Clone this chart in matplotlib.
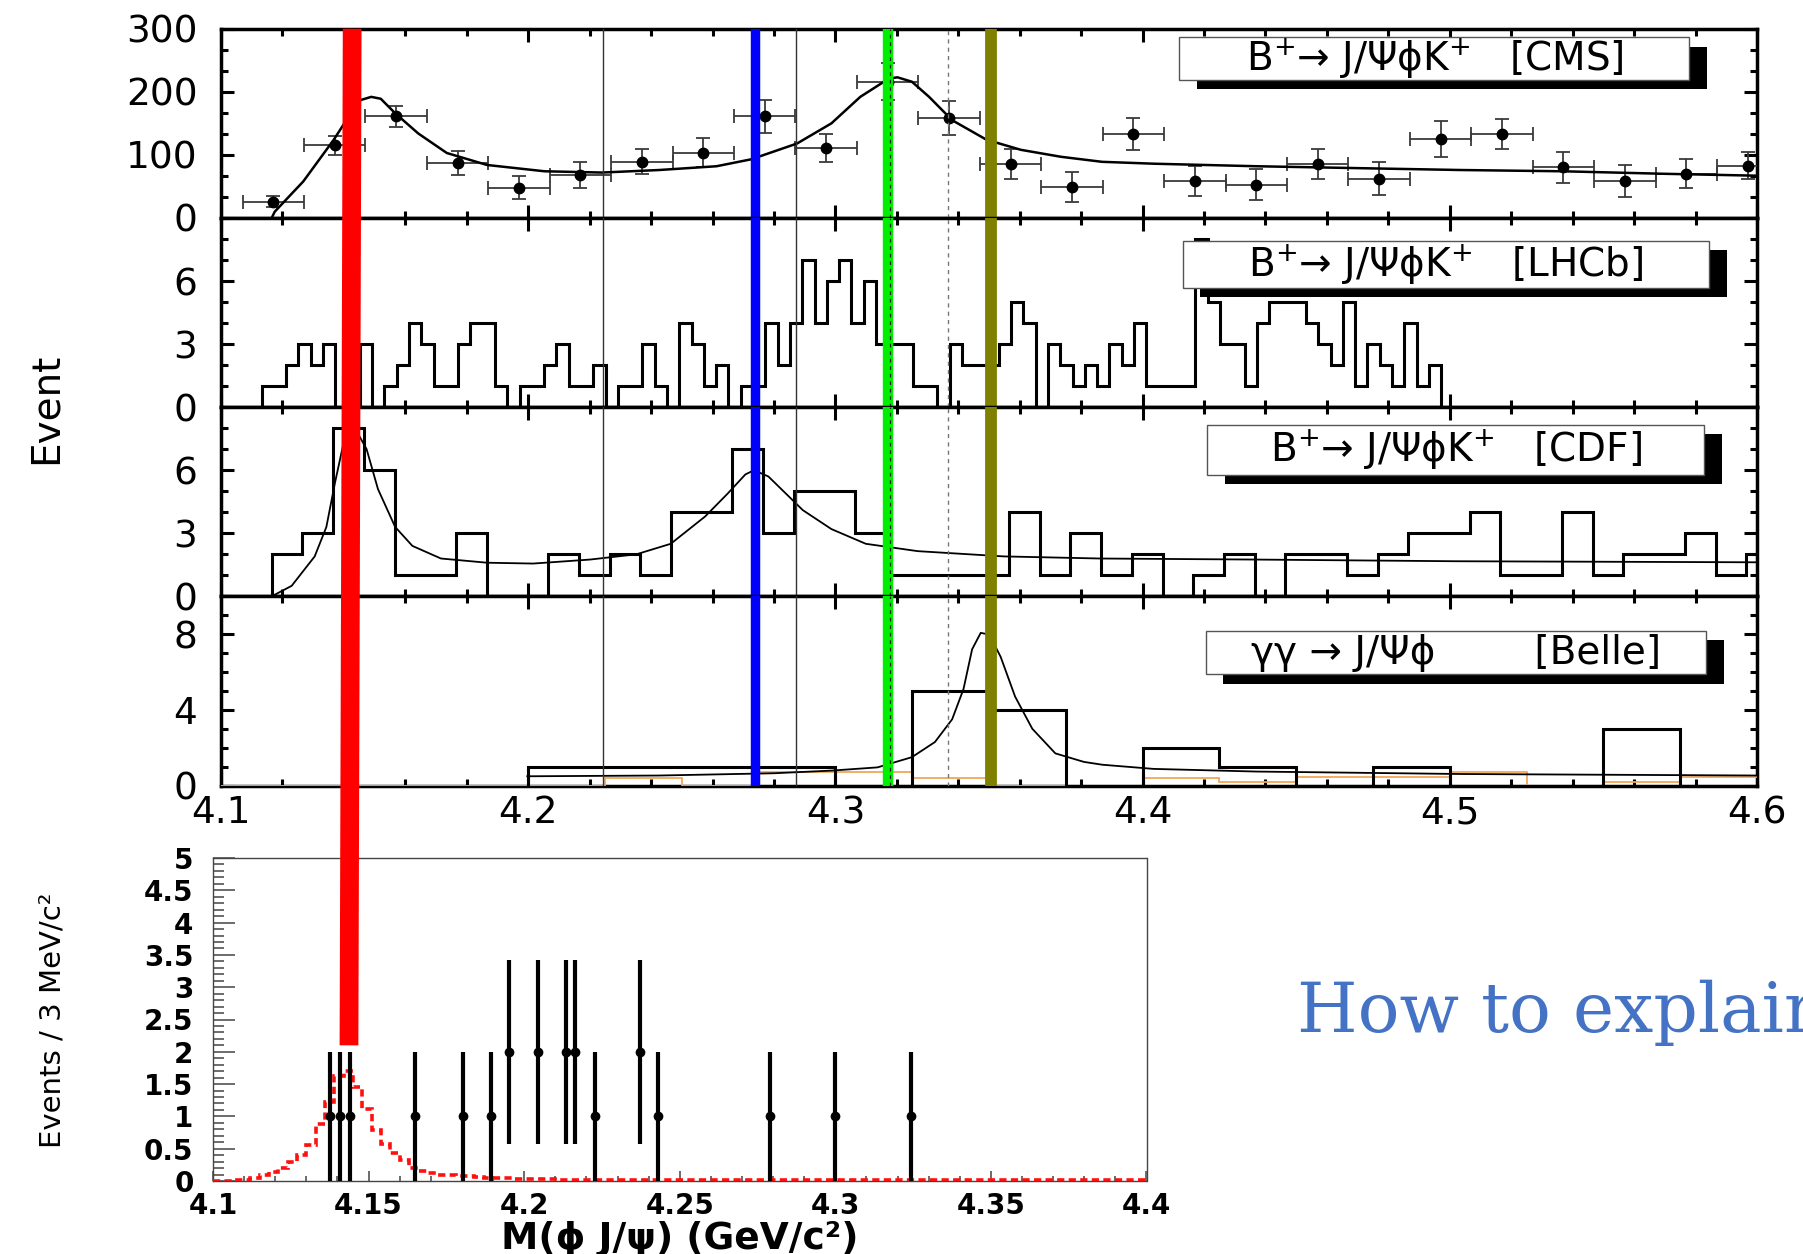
import matplotlib
matplotlib.use("Agg")
import numpy as np
import matplotlib.pyplot as plt
from matplotlib.patches import Rectangle, ConnectionPatch
from matplotlib.ticker import MultipleLocator, FixedLocator, FormatStrFormatter

# ---- CMS: B+ -> J/psi phi K+ (points, 20 MeV bins) ----
cms_x = [4.117, 4.137, 4.157, 4.177, 4.197, 4.217, 4.237, 4.257, 4.277, 4.297,
         4.317, 4.337, 4.357, 4.377, 4.397, 4.417, 4.437, 4.457, 4.477, 4.497,
         4.517, 4.537, 4.557, 4.577, 4.597]
cms_y = [26, 115, 161, 87, 48, 68, 89, 103, 161, 111,
         216, 158, 85, 49, 133, 59, 53, 85, 62, 125,
         133, 80, 59, 70, 83]
cms_err = [9, 15, 17, 19, 18, 20, 20, 23, 26, 22,
           29, 27, 24, 24, 25, 24, 25, 24, 26, 28,
           24, 24, 25, 23, 22]
cms_halfbin = 0.01
cms_fit_x = [4.1165, 4.1175, 4.1268, 4.1367, 4.1408, 4.1455, 4.1489, 4.152, 4.1567,
             4.1642, 4.1735, 4.1866, 4.2053, 4.224, 4.2426, 4.2613, 4.2726, 4.2875,
             4.2987, 4.3081, 4.3174, 4.3202, 4.3249, 4.3305, 4.338, 4.3492, 4.3604,
             4.3734, 4.3868, 4.4037, 4.437, 4.470, 4.5036, 4.5368, 4.570, 4.6]
cms_fit_y = [0, 10, 58, 124, 155, 187, 192, 189, 166, 134, 103, 84, 74, 72, 76, 82,
             93, 118, 150, 192, 221, 223, 216, 192, 155, 124, 108, 97, 89, 86, 82,
             79, 76, 74, 70, 67]

# ---- LHCb histogram (4 MeV bins) ----
lhcb_lo, lhcb_bin = 4.1132, 0.004
lhcb_counts = [1, 1, 2, 3, 2, 3, 0, 0, 3, 0,
               1, 2, 4, 3, 1, 1, 3, 4, 4, 1,
               0, 1, 1, 2, 3, 1, 1, 2, 0, 1,
               1, 3, 1, 0, 4, 3, 1, 2, 0, 1,
               1, 4, 2, 4, 7, 4, 6, 7, 4, 6,
               3, 3, 3, 1, 1, 0, 3, 2, 2, 2,
               3, 5, 4, 0, 3, 2, 1, 2, 1, 3,
               2, 4, 1, 1, 1, 1, 8, 5, 3, 3,
               1, 4, 5, 5, 5, 4, 3, 2, 5, 1,
               3, 2, 1, 4, 1, 2]

# ---- CDF histogram (10 MeV bins) + fit ----
cdf_lo, cdf_bin = 4.1165, 0.01
cdf_counts = [2, 3, 8, 6, 1, 1, 3, 0, 0, 2,
              1, 2, 1, 4, 4, 7, 3, 5, 5, 3,
              1, 1, 1, 1, 4, 1, 3, 1, 2, 0,
              1, 2, 0, 2, 2, 1, 2, 3, 3, 4,
              1, 1, 4, 1, 2, 2, 3, 1, 2]
cdf_fit_x = [4.1165, 4.123, 4.1305, 4.1343, 4.1371, 4.1399, 4.1436, 4.1474, 4.1511,
             4.1567, 4.1623, 4.1716, 4.1866, 4.2016, 4.2201, 4.2352, 4.2464, 4.2576,
             4.265, 4.2707, 4.2735, 4.2782, 4.2838, 4.2894, 4.2987, 4.3099, 4.3268,
             4.3548, 4.3861, 4.4369, 4.502, 4.6]
cdf_fit_y = [0, 0.5, 1.9, 3.3, 5.4, 7.3, 8.0, 7.0, 5.1, 3.3, 2.4, 1.8, 1.6, 1.56,
             1.75, 2.0, 2.5, 3.8, 4.9, 5.8, 6.0, 5.7, 4.9, 4.1, 3.2, 2.5, 2.15, 1.9,
             1.8, 1.75, 1.67, 1.62]

# ---- Belle gamma gamma -> J/psi phi (25 MeV bins) ----
belle_lo, belle_bin = 4.2, 0.025
belle_counts = [1, 1, 1, 1, 0, 5, 4, 0, 2, 1, 0, 1, 0, 0, 3, 0]
belle_bkg_lo = 4.1
belle_bkg = [0, 0, 0, 0, 0, 0.4, 0, 0.7, 0.7, 0.4,
             0, 0, 0.4, 0.2, 0.45, 0.45, 0.7, 0, 0.2, 0.45]
belle_fit_x = [4.1997, 4.2426, 4.28, 4.2987, 4.3137, 4.3249, 4.3324, 4.338, 4.3417,
               4.3445, 4.3473, 4.3501, 4.3538, 4.3585, 4.3641, 4.3716, 4.3809, 4.3869,
               4.4036, 4.437, 4.5036, 4.6]
belle_fit_y = [0.49, 0.53, 0.65, 0.79, 0.96, 1.5, 2.3, 3.5, 5.1, 7.2, 8.07, 7.98, 6.8,
               4.7, 3.0, 1.7, 1.25, 1.1, 0.88, 0.74, 0.61, 0.53]

# ---- lower panel: events (3 MeV bins) + MC shape ----
ev_x = [4.1377, 4.1409, 4.1441, 4.165, 4.1802, 4.1893, 4.1952, 4.2043, 4.2133,
        4.2164, 4.2227, 4.2372, 4.243, 4.279, 4.300, 4.3242]
ev_y = [1, 1, 1, 1, 1, 1, 2, 2, 2, 2, 1, 2, 1, 1, 1, 1]
ev_err = [1, 1, 1, 1, 1, 1, 1.42, 1.42, 1.42, 1.42, 1, 1.42, 1, 1, 1, 1]
mc_lo, mc_bin = 4.1, 0.003
mc_vals = [0, 0, 0.01, 0.015, 0.04, 0.09, 0.14, 0.2, 0.3, 0.4,
           0.55, 0.89, 1.22, 1.62, 1.71, 1.45, 1.12, 0.79, 0.58, 0.43,
           0.32, 0.2, 0.15, 0.12, 0.1, 0.09, 0.08, 0.07, 0.06, 0.05,
           0.045, 0.04, 0.035, 0.03, 0.03, 0.025, 0.025, 0.02, 0.02, 0.02,
           0.015, 0.015, 0.015, 0.015, 0.015, 0.015, 0.015, 0.015, 0.015, 0.015,
           0.015, 0.015, 0.015, 0.015, 0.015, 0.015, 0.015, 0.015, 0.015, 0.015,
           0.01, 0.01, 0.01, 0.01, 0.01, 0.01, 0.01, 0.01, 0.01, 0.01,
           0.01, 0.01, 0.01, 0.01, 0.01, 0.01, 0.01, 0.01, 0.01, 0.01,
           0.01, 0.01, 0.01, 0.01, 0.01, 0.01, 0.01, 0.01, 0.01, 0.01,
           0.01, 0.01, 0.01, 0.01, 0.01, 0.01, 0.01, 0.01, 0.01, 0.01]

# marker lines (GeV)
red_top, red_bot, red_bot_y = 4.1427, 4.1437, 2.1
blue_m, green_m, olive_m = 4.2739, 4.3170, 4.3508
thin_m = [4.2245, 4.2871]
dash_m = 4.3366

W_PX, H_PX = 1803, 1254
fig = plt.figure(figsize=(W_PX / 100, H_PX / 100), dpi=100)

left, width = 221 / W_PX, 1536 / W_PX
top0, ph = 28.75, 189.2
axes = []
for i in range(4):
    b = 1 - (top0 + ph * (i + 1)) / H_PX
    axes.append(fig.add_axes([left, b, width, ph / H_PX]))
ax_cms, ax_lhcb, ax_cdf, ax_belle = axes


def frame(ax, ymax, yticks, yminor):
    ax.set_xlim(4.1, 4.6)
    ax.set_ylim(0, ymax)
    ax.xaxis.set_major_locator(MultipleLocator(0.1))
    ax.xaxis.set_minor_locator(MultipleLocator(0.02))
    ax.yaxis.set_major_locator(FixedLocator(yticks))
    ax.yaxis.set_minor_locator(MultipleLocator(yminor))
    ax.tick_params(which="both", direction="in", top=True, right=True, width=2.2,
                   labelsize=27, labelbottom=False)
    ax.tick_params(which="major", length=9.5)
    ax.tick_params(which="minor", length=5)
    ax.tick_params(axis="y", pad=17)
    for s in ax.spines.values():
        s.set_linewidth(2.5)
    for x in thin_m:
        ax.axvline(x, color="#333333", lw=1.0, zorder=4)
    ax.axvline(dash_m, color="#777777", lw=1.0, ls=(0, (3, 3)), zorder=4)
    ax.axvline(blue_m, color="#0000ff", lw=6.8, zorder=5)
    ax.axvline(green_m, color="#00ee00", lw=7.5, zorder=5)
    ax.axvline(green_m + 0.0008, color="#222222", lw=0.9, ls=(0, (3, 3)), zorder=6)
    ax.axvline(olive_m, color="#7f7f00", lw=8.5, zorder=5)


def tag(ax, box, text, dx=0.0115, dy=0.05):
    x0, y0, w, h = box
    ax.add_patch(Rectangle((x0 + dx, y0 - dy), w, h, transform=ax.transAxes,
                           facecolor="black", edgecolor="none", zorder=7))
    ax.add_patch(Rectangle((x0, y0), w, h, transform=ax.transAxes,
                           facecolor="white", edgecolor="#555555", lw=1.0, zorder=8))
    ax.text(x0 + w / 2, y0 + h / 2, text, transform=ax.transAxes, ha="center",
            va="center", fontsize=28, zorder=9)


frame(ax_cms, 300, [0, 100, 200, 300], 100 / 3)
ax_cms.errorbar(cms_x, cms_y, xerr=cms_halfbin, yerr=cms_err, fmt="o", color="black",
                ms=7.5, ecolor="#3a3a3a", elinewidth=1.3, capsize=5, capthick=1.3,
                zorder=3)
ax_cms.plot(cms_fit_x, cms_fit_y, color="black", lw=1.8, zorder=3)
tag(ax_cms, (0.624, 0.729, 0.332, 0.227), "B$^{+}$\u2192 J/\u03a8\u03d5K$^{+}$   [CMS]")

frame(ax_lhcb, 9, [0, 3, 6], 1)
lhcb_edges = lhcb_lo + lhcb_bin * np.arange(len(lhcb_counts) + 1)
ax_lhcb.stairs(lhcb_counts, lhcb_edges, baseline=0, color="black", lw=2.2, zorder=3)
tag(ax_lhcb, (0.626, 0.630, 0.343, 0.248), "B$^{+}$\u2192 J/\u03a8\u03d5K$^{+}$   [LHCb]")

frame(ax_cdf, 9, [0, 3, 6], 1)
cdf_edges = cdf_lo + cdf_bin * np.arange(len(cdf_counts) + 1)
ax_cdf.stairs(cdf_counts, cdf_edges, baseline=0, color="black", lw=2.2, zorder=3)
ax_cdf.plot(cdf_fit_x, cdf_fit_y, color="black", lw=1.3, zorder=3)
tag(ax_cdf, (0.642, 0.641, 0.3235, 0.264), "B$^{+}$\u2192 J/\u03a8\u03d5K$^{+}$   [CDF]",
    dy=0.045)

frame(ax_belle, 10, [0, 4, 8], 1)
bkg_edges = belle_bkg_lo + belle_bin * np.arange(len(belle_bkg) + 1)
ax_belle.stairs(belle_bkg, bkg_edges, baseline=None, color="#f2a65a", lw=1.3, zorder=3)
belle_edges = belle_lo + belle_bin * np.arange(len(belle_counts) + 1)
ax_belle.stairs(belle_counts, belle_edges, baseline=0, color="black", lw=2.2, zorder=3)
ax_belle.plot(belle_fit_x, belle_fit_y, color="black", lw=1.3, zorder=3)
ax_belle.tick_params(labelbottom=True, axis="x", pad=7)
ax_belle.xaxis.set_major_formatter(FormatStrFormatter("%.1f"))
tag(ax_belle, (0.641, 0.589, 0.326, 0.228),
    "\u03b3\u03b3 \u2192 J/\u03a8\u03d5        [Belle]")

fig.text(46 / W_PX, 1 - 408 / H_PX, "Event", rotation=90, ha="center", va="center",
         fontsize=28)

# ---- lower panel ----
ax_b = fig.add_axes([213 / W_PX, 1 - 1181 / H_PX, 933.5 / W_PX, 323 / H_PX])
ax_b.set_xlim(4.1, 4.4)
ax_b.set_ylim(0, 5)
ax_b.xaxis.set_major_locator(MultipleLocator(0.05))
ax_b.xaxis.set_minor_locator(MultipleLocator(0.01))
ax_b.yaxis.set_major_locator(MultipleLocator(0.5))
ax_b.yaxis.set_minor_locator(MultipleLocator(0.1))
ax_b.xaxis.set_major_formatter(FormatStrFormatter("%g"))
ax_b.yaxis.set_major_formatter(FormatStrFormatter("%g"))
ax_b.tick_params(which="both", direction="in", width=1.1, color="#444444",
                 labelsize=20)
ax_b.tick_params(axis="y", which="major", length=16, pad=14)
ax_b.tick_params(axis="y", which="minor", length=8)
ax_b.tick_params(axis="x", which="major", length=7, pad=8)
ax_b.tick_params(axis="x", which="minor", length=3.5)
for lab in ax_b.get_xticklabels() + ax_b.get_yticklabels():
    lab.set_fontweight("bold")
for s in ax_b.spines.values():
    s.set_linewidth(1.0)
    s.set_color("#444444")
mc_edges = mc_lo + mc_bin * np.arange(len(mc_vals) + 1)
ax_b.stairs(mc_vals, mc_edges, baseline=None, color="#ff1010", lw=2.6,
            ls=(0, (2, 1.2)), zorder=3)
ax_b.errorbar(ev_x, ev_y, yerr=ev_err, fmt="o", color="black", ms=6,
              elinewidth=3.0, capsize=0, zorder=4)

fig.text(53 / W_PX, 1 - 1020 / H_PX, "Events / 3 MeV/c\u00b2", rotation=90,
         ha="center", va="center", fontsize=21)
fig.text(680 / W_PX, 1 - 1239 / H_PX, "M(\u03d5 J/\u03c8) (GeV/c\u00b2)", ha="center",
         va="center", fontsize=27, fontweight="bold")

# red marker line running from the top panel into the lower panel
con = ConnectionPatch(xyA=(red_top, 300), coordsA=ax_cms.transData,
                      xyB=(red_bot, red_bot_y), coordsB=ax_b.transData,
                      color="#ff0000", lw=13.5, capstyle="butt", zorder=10)
fig.add_artist(con)

fig.text(1297 / W_PX, 1 - 1032 / H_PX, "How to explain", fontsize=50,
         color="#4472c4", family="DejaVu Serif", ha="left", va="baseline")

fig.savefig("out.png", dpi=100)
